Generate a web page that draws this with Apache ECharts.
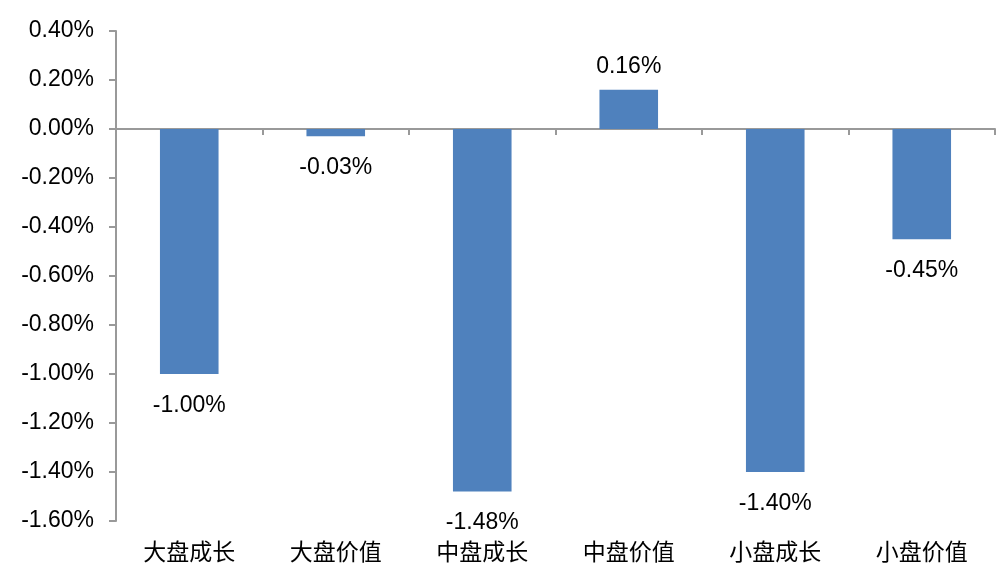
<!DOCTYPE html>
<html><head><meta charset="utf-8">
<script src="https://cdn.jsdelivr.net/npm/echarts@6/dist/echarts.min.js"></script>
<style>html,body{margin:0;padding:0;background:#fff}#c{width:1005px;height:576px}</style>
</head><body><div id="c"></div>
<script>
var categories = ['大盘成长','大盘价值','中盘成长','中盘价值','小盘成长','小盘价值'];
var values = [-1.00, -0.03, -1.48, 0.16, -1.40, -0.45];
var yMin = -1.6, yMax = 0.4, yStep = 0.2;

var chart = echarts.init(document.getElementById('c'));
var axisColor = '#999999';
chart.setOption({
  animation: false,
  grid: {left: 116, right: 10, top: 31, bottom: 55},
  xAxis: [{
    type: 'category', data: categories, position: 'bottom',
    axisLine: {onZero: true, lineStyle: {color: axisColor, width: 2}},
    axisTick: {show: true, length: 6, lineStyle: {color: axisColor, width: 2}},
    axisLabel: {show: false}
  }, {
    type: 'category', data: categories, position: 'bottom',
    axisLine: {show: false, onZero: false}, axisTick: {show: false},
    axisLabel: {show: true, margin: 19, fontSize: 23, color: '#000',
      fontFamily: '"Noto Sans CJK SC", sans-serif'}
  }],
  yAxis: {
    type: 'value', min: yMin, max: yMax, interval: yStep,
    axisLine: {show: true, lineStyle: {color: axisColor, width: 2}},
    axisTick: {show: true, length: 7, lineStyle: {color: axisColor, width: 2}},
    splitLine: {show: false},
    axisLabel: {fontSize: 23, color: '#000', margin: 22,
      fontFamily: '"Liberation Sans", Arial, sans-serif',
      formatter: function (v) { return v.toFixed(2) + '%'; }}
  },
  series: [{
    type: 'bar', xAxisIndex: 0, barWidth: '40%',
    data: values.map(function (v) {
      return {value: v, label: v >= 0 ? {position: 'top', distance: 12} : {position: 'bottom', distance: 20}};
    }),
    itemStyle: {color: '#4f81bd'},
    label: {show: true, fontSize: 23, color: '#000',
      fontFamily: '"Liberation Sans", Arial, sans-serif',
      formatter: function (p) { return p.value.toFixed(2) + '%'; }}
  }]
});
</script></body></html>
